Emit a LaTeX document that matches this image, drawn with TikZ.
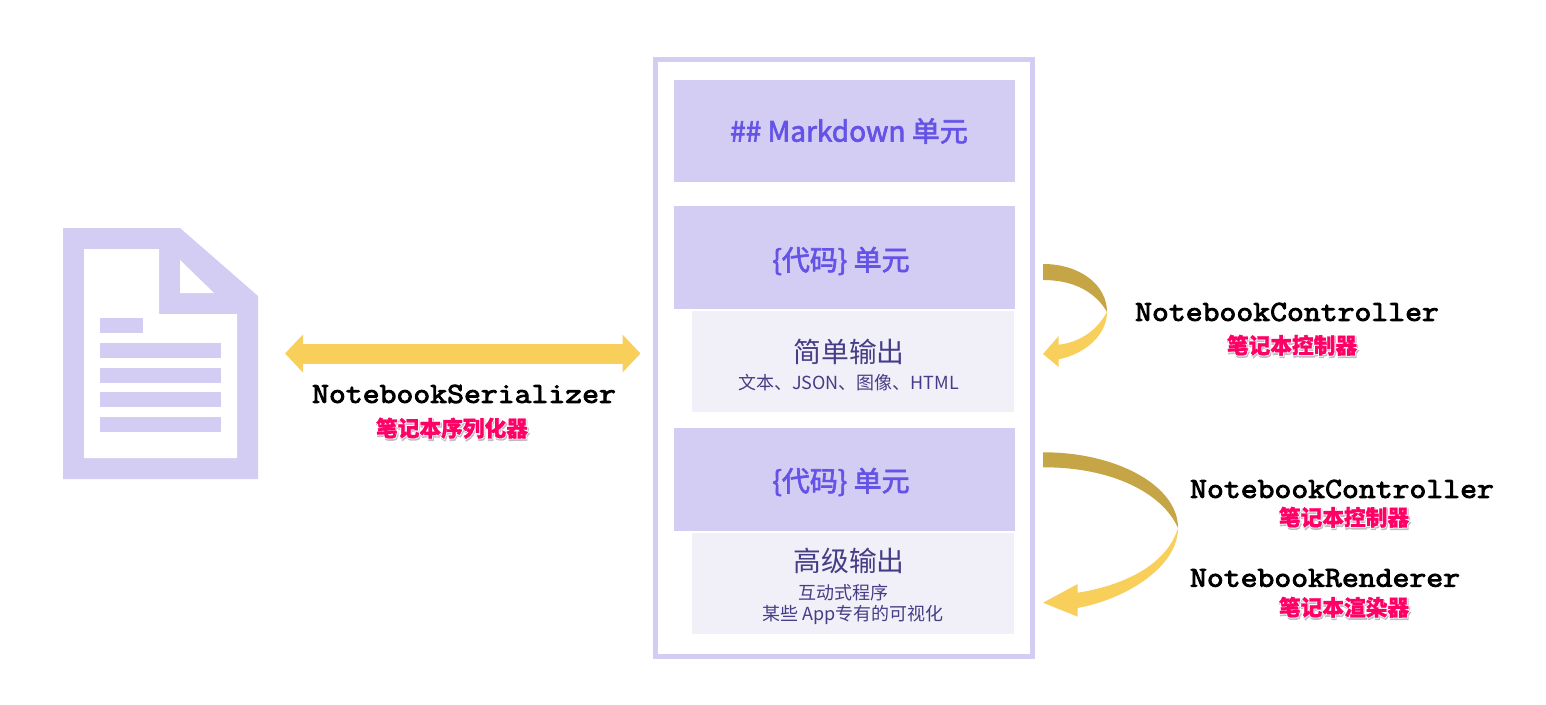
\documentclass[tikz,border=0pt]{standalone}
\usepackage{fontspec}
\usepackage{tikz}
\usetikzlibrary{arrows.meta,positioning}
\newfontfamily\cjk{Noto Sans CJK SC}
\newfontfamily\cjkmed[FakeBold=2.4]{Noto Sans CJK SC}
\newfontfamily\cjkzh[BoldFeatures={FakeBold=1.2}]{Noto Sans CJK SC}
\newfontfamily\cjkglow[BoldFeatures={FakeBold=9}]{Noto Sans CJK SC}
\newfontfamily\code[FakeBold=3.2,FakeStretch=1.13]{Latin Modern Mono}
\definecolor{lilac}{HTML}{D3CDF3}
\definecolor{pale}{HTML}{F1F0F8}
\definecolor{violet}{HTML}{6553E8}
\definecolor{ink}{HTML}{463D87}
\definecolor{gold}{HTML}{F8CF5A}
\definecolor{ochre}{HTML}{C5A545}
\definecolor{hot}{HTML}{FF0066}
\definecolor{shade}{HTML}{BDBDBD}
\newcommand{\zhlabel}[1]{\makebox[0pt][l]{\hspace{0.8pt}\raisebox{-1.6pt}{\cjkglow\textcolor{shade}{#1}}}\makebox[0pt][l]{\cjkglow\textcolor{white}{#1}}\textcolor{hot}{#1}}

\begin{document}
\begin{tikzpicture}[x=1pt, y=-1pt, node distance=24pt, outer sep=0pt]
    \tikzset{
        cell/.style     =   { rectangle
                            , fill=lilac
                            , inner sep=0pt
                            , minimum width=341pt
                            , minimum height=103pt
        }
        , outbox/.style =   { rectangle
                            , fill=pale
                            , inner sep=0pt
                            , minimum width=322pt
                            , minimum height=101pt
        }
        , celltext/.style = { font=\cjkmed\fontsize{28}{30}\selectfont
                            , text=violet
        }
        , outhead/.style =  { font=\cjk\fontsize{27.8}{30}\selectfont
                            , text=ink
        }
        , outsub/.style =   { font=\cjk\fontsize{18}{22}\selectfont
                            , text=ink
        }
        , api/.style    =   { font=\code\fontsize{29}{30}\selectfont
                            , text=black
        }
        , zh/.style     =   { font=\cjkzh\bfseries\fontsize{21.7}{24}\selectfont
        }
        , sheet/.style  =   { fill=lilac
        }
        , wide/.style   =   { line width=20pt
                            , draw=gold
                            , {Triangle[length=18pt,width=37pt]}-{Triangle[length=18pt,width=37pt]}
                            , shorten <=27pt
                            , shorten >=15pt
        }
    }
    \useasboundingbox (0,0) rectangle (1546,704);

    % notebook file
    \node(doc)[minimum width=195pt, minimum height=251pt, inner sep=0pt] at (160.5,353.5) {};
    \fill[sheet] (63,228) -- (180,228) -- (258,296) -- (258,479) -- (63,479) -- cycle;
    \fill[white] (84,249) -- (159,249) -- (159,314) -- (237,314) -- (237,458) -- (84,458) -- cycle;
    \fill[white] (180,260) -- (214,293) -- (180,293) -- cycle;
    \fill[sheet] (100,318) rectangle (143,333);
    \foreach \y in {343,368,392,417}
        \fill[sheet] (100,\y) rectangle (221,\y+15);

    % cells
    \node(frame)[draw=lilac, line width=5pt, minimum width=377pt, minimum height=597pt, inner sep=0pt] at (844,358) {};
    \node(md)[cell, minimum height=102pt] at (844.5,131) {};
    \node(code1)[cell, below=of md] {};
    \node(out1)[outbox, below=2pt of code1, xshift=8.5pt] {};
    \node(code2)[cell, below=16pt of out1, xshift=-8.5pt] {};
    \node(out2)[outbox, below=2pt of code2, xshift=8.5pt] {};

    \node(mdtext)[celltext] at (849,131) {\#\# Markdown 单元};
    \node(code1text)[celltext] at (841,261) {\{代码\} 单元};
    \node(code2text)[celltext] at (841,482) {\{代码\} 单元};
    \node(out1head)[outhead] at (849,352) {简单输出};
    \node(out1sub)[outsub] at (848.5,383) {文本、JSON、图像、HTML};
    \node(out2head)[outhead] at (849,561) {高级输出};
    \node(out2suba)[outsub] at (843.5,593) {互动式程序};
    \node(out2subb)[outsub] at (853,615) {某些 App专有的可视化};

    % arrows
    \draw[wide] (doc.east |- 0,353.5) -- (frame.west |- 0,353.5);

    \coordinate(turn1) at (1107,312);
    \fill[ochre] (1043,264) .. controls (1080,264) and (1107,285) .. (turn1)
        .. controls (1096,293) and (1075,280) .. (1043,280) -- cycle;
    \fill[gold] (turn1) .. controls (1107,335) and (1085,354) .. (1058.7,359.3)
        -- (1058.7,367) -- (1043,354) -- (1058.7,336) -- (1058.7,344.7)
        .. controls (1078,342.5) and (1096,332) .. (turn1) -- cycle;

    \coordinate(turn2) at (1178,528);
    \fill[ochre] (1043,452.3) .. controls (1115,452) and (1178,485) .. (turn2)
        .. controls (1162,492) and (1110,467) .. (1043,467.3) -- cycle;
    \fill[gold] (turn2) .. controls (1178,565) and (1130,598) .. (1077.7,608)
        -- (1077.7,616.7) -- (1043,602.7) -- (1077.7,584) -- (1077.7,592.7)
        .. controls (1120,586) and (1166,567) .. (turn2) -- cycle;

    % labels
    \node(serial)[api] at (464,394) {NotebookSerializer};
    \node(serialzh)[zh] at (452,429) {\zhlabel{笔记本序列化器}};
    \node(ctrla)[api] at (1287,312) {NotebookController};
    \node(ctrlazh)[zh] at (1292,346) {\zhlabel{笔记本控制器}};
    \node(ctrlb)[api] at (1342,489) {NotebookController};
    \node(ctrlbzh)[zh] at (1344,518) {\zhlabel{笔记本控制器}};
    \node(rend)[api] at (1325,578) {NotebookRenderer};
    \node(rendzh)[zh] at (1344,608) {\zhlabel{笔记本渲染器}};
\end{tikzpicture}
\end{document}
